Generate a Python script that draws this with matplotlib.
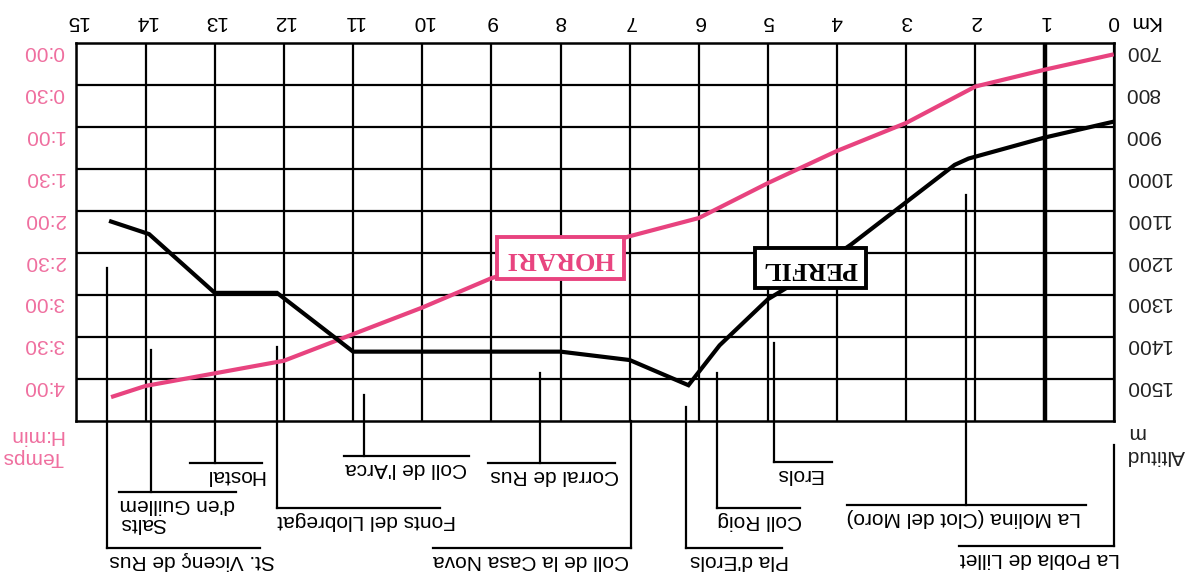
import matplotlib
matplotlib.use('Agg')
import matplotlib.pyplot as plt
import matplotlib.transforms as mtransforms

# profile: km -> altitude (m)
perfil_km = [0, 1, 2.1, 2.3, 3.8, 4.6, 5.0, 5.7, 6.15, 7.0, 8.0, 11.0, 12.1, 13.0, 13.95, 14.5]
perfil_alt = [887, 925, 975, 990, 1180, 1270, 1310, 1420, 1515, 1455, 1435, 1435, 1295, 1295, 1155, 1125]

# timetable: km -> minutes
horari_km = [0, 1, 2, 3, 4, 5, 6, 7, 8, 9, 10, 11, 12, 13, 14, 14.5]
horari_min = [8, 19, 31, 57, 77, 100, 125, 138, 153, 168, 189, 208, 227, 236, 245, 253]

km_ticks = list(range(0, 16))
alt_ticks = [700, 800, 900, 1000, 1100, 1200, 1300, 1400, 1500]
time_labels = ['0:00', '0:30', '1:00', '1:30', '2:00', '2:30', '3:00', '3:30', '4:00']

# waypoints: name, km of leader, altitude where leader starts
waypoints = ['St. Vicenç de Rus', 'Salts\nd\'en Guillem', 'Hostal', 'Fonts del Llobregat',
             'Coll de l\'Arca', 'Corral de Rus', 'Coll de la Casa Nova', 'Pla d\'Erols',
             'Coll Roig', 'Erols', 'La Molina (Clot del Moro)', 'La Pobla de Lillet']
wp_km = [14.56, 13.92, 13.0, 12.1, 10.84, 8.3, 6.98, 6.19, 5.74, 4.92, 2.13, 0.0]
wp_top = [1236, 1431, 1600, 1424, 1538, 1486, 1600, 1567, 1486, 1414, 1062, 1657]

# layout of the labels below the chart (underline level, underline span, text left edge)
wp_level = [1902, 1769, 1700, 1807, 1683, 1700, 1902, 1902, 1807, 1698, 1800, 1898]
wp_span = [(14.56, 12.35), (14.38, 12.7), (13.36, 12.32), (12.1, 9.74), (11.13, 9.32),
           (9.05, 7.21), (9.85, 6.98), (6.19, 4.8), (5.74, 4.54), (4.92, 4.08),
           (3.86, 0.4), (2.24, 0.0)]
wp_text = [14.53, 14.38, 13.14, 12.1, 11.12, 9.02, 9.85, 6.13, 5.73, 4.9, 3.86, 2.23]

PINK = '#e8437f'
PINK_LIGHT = '#ef6f9f'
SANS = ['Liberation Sans', 'DejaVu Sans']
SERIF = ['Liberation Serif', 'DejaVu Serif']
FS = 15

fig = plt.figure(figsize=(11.95, 5.75), dpi=100)
ax = fig.add_axes([0.064, 0.268, 0.868, 0.657])
ax.set_xlim(15, 0)
ax.set_ylim(1600, 700)

# grid
for k in km_ticks:
    ax.axvline(k, color='black', lw=3.2 if k == 1 else 1.6, zorder=1)
for a in alt_ticks[1:]:
    ax.axhline(a, color='black', lw=1.6, zorder=1)
for s in ax.spines.values():
    s.set_linewidth(1.8)
ax.set_xticks([])
ax.set_yticks([])

# time mapped on altitude scale: 30 min = 100 m
time_alt = [700 + m / 30 * 100 for m in horari_min]
ax.plot(horari_km, time_alt, color=PINK, lw=3, zorder=3, solid_capstyle='butt')
ax.plot(perfil_km, perfil_alt, color='black', lw=3, zorder=3, solid_joinstyle='miter')

# tick labels (everything is upside down)
for k in km_ticks:
    ax.text(k, 1.058, str(k), transform=ax.get_xaxis_transform(), rotation=180,
            ha='center', va='center', fontsize=FS, family=SANS)
ax.text(-0.22, 1.058, 'Km', transform=ax.get_xaxis_transform(), rotation=180,
        ha='left', va='center', fontsize=FS, family=SANS)

down = mtransforms.offset_copy(ax.transData, fig=fig, x=0, y=-8, units='dots')
side = mtransforms.blended_transform_factory(ax.transAxes, down)
for a, t in zip(alt_ticks, time_labels):
    ax.text(1.0105, a, str(a), transform=side, rotation=180, ha='left', va='center',
            fontsize=FS, family=SANS, color='#222222')
    ax.text(-0.0115, a, t, transform=side, rotation=180, ha='right', va='center',
            fontsize=FS, family=SANS, color=PINK_LIGHT)

ax.text(1.0125, 1628, 'm', transform=ax.get_yaxis_transform(), rotation=180, ha='left',
        va='center', fontsize=FS, family=SANS, color='#222222')
ax.text(1.0125, 1683, 'Altitud', transform=ax.get_yaxis_transform(), rotation=180, ha='left',
        va='center', fontsize=FS, family=SANS, color='#222222')
ax.text(-0.0125, 1635, 'H:min', transform=ax.get_yaxis_transform(), rotation=180, ha='right',
        va='center', fontsize=FS, family=SANS, color=PINK_LIGHT)
ax.text(-0.0125, 1688, 'Temps', transform=ax.get_yaxis_transform(), rotation=180, ha='right',
        va='center', fontsize=FS, family=SANS, color=PINK_LIGHT)

# boxed labels
ax.text(4.39, 1236, 'PERFIL', rotation=180, ha='center', va='center', fontsize=18.5,
        fontweight='bold', family=SERIF, zorder=5,
        bbox=dict(boxstyle='square,pad=0.32', fc='white', ec='black', lw=2.8))
ax.text(8.0, 1212, 'HORARI', rotation=180, ha='center', va='center', fontsize=19,
        fontweight='bold', family=SERIF, color=PINK, zorder=5,
        bbox=dict(boxstyle='square,pad=0.35', fc='white', ec=PINK, lw=2.8))

# waypoint leaders
below = mtransforms.offset_copy(ax.transData, fig=fig, x=0, y=-3, units='dots')
for name, k, top, lev, span, tx in zip(waypoints, wp_km, wp_top, wp_level, wp_span, wp_text):
    ax.plot([k, k], [top, lev], color='black', lw=1.6, clip_on=False, zorder=2)
    ax.plot(list(span), [lev, lev], color='black', lw=1.6, clip_on=False, zorder=2)
    ax.text(tx, lev, name, transform=below, rotation=180, ha='left', va='top',
            fontsize=FS, family=SANS, multialignment='right', linespacing=1.0,
            clip_on=False)

fig.savefig('out.png', dpi=100, facecolor='white')
